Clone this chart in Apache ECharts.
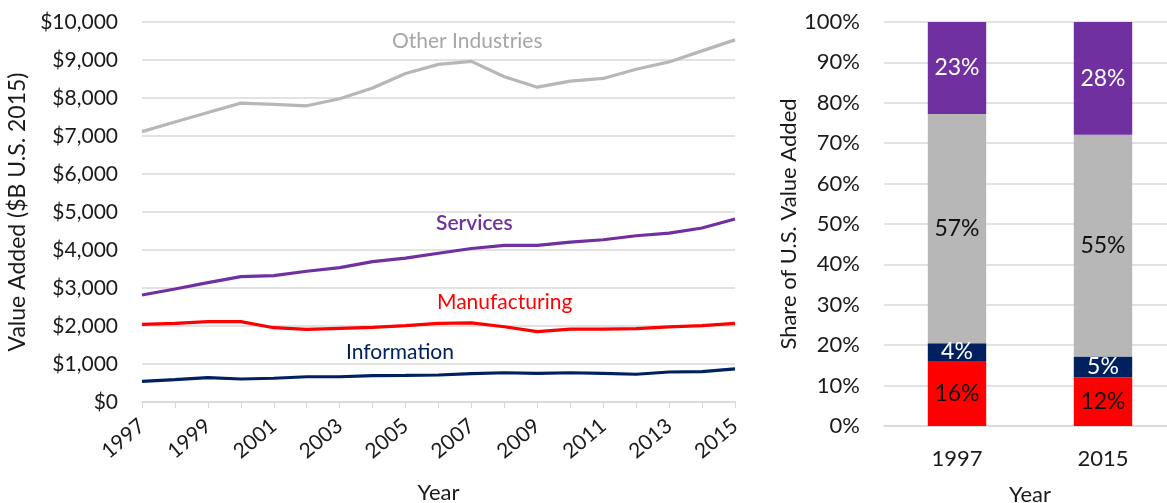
<!DOCTYPE html>
<html><head><meta charset="utf-8">
<script src="https://cdn.jsdelivr.net/npm/echarts@6/dist/echarts.min.js"></script>
<style>html,body{margin:0;padding:0;background:#fff}#c{width:1167px;height:503px}</style>
</head><body><div id="c"></div>
<script>
const years = ['1997','1998','1999','2000','2001','2002','2003','2004','2005','2006','2007','2008','2009','2010','2011','2012','2013','2014','2015'];
const otherIndustries = [7115,7370,7620,7865,7830,7795,7980,8265,8645,8885,8965,8560,8285,8445,8515,8755,8950,9240,9530];
const services = [2815,2975,3140,3300,3325,3440,3535,3695,3785,3915,4040,4120,4120,4205,4270,4375,4445,4580,4815];
const manufacturing = [2045,2070,2115,2115,1955,1910,1940,1965,2010,2070,2080,1980,1850,1920,1920,1930,1975,2010,2070];
const information = [545,590,640,605,625,665,665,695,700,710,745,770,755,770,755,730,790,800,870];

const shareYears = ['1997','2015'];
const shareManufacturing = [16.1,12.0];
const shareInformation = [4.4,5.2];
const shareOther = [56.7,54.9];
const shareServices = [22.8,27.9];

const C = {other:'#b7b7b7', services:'#7030a0', manuf:'#ff0000', info:'#002060'};
const FONT = 'Lato';
const txt = '#1a1a1a';
const chart = echarts.init(document.getElementById('c'));
function lineSeries(name, data, color){
  return {name, type:'line', xAxisIndex:0, yAxisIndex:0, data, symbol:'none', lineStyle:{color, width:3.2}, itemStyle:{color}};
}
function barSeries(name, data, color, labelColor){
  return {name, type:'bar', xAxisIndex:1, yAxisIndex:1, stack:'s', data, barWidth:'40%',
    itemStyle:{color}, label:{show:true, position:'inside', color:labelColor, fontSize:23, fontFamily:FONT,
    formatter:p=>Math.round(p.value)+'%'}};
}
chart.setOption({
  animation:false,
  textStyle:{fontFamily:FONT},
  grid:[
    {left:142, right:432, top:22, bottom:101, outerBoundsMode:'none', containLabel:false},
    {left:884, width:292, top:22, bottom:77, outerBoundsMode:'none', containLabel:false}
  ],
  xAxis:[
    {gridIndex:0, type:'category', data:years, boundaryGap:false,
     axisLine:{lineStyle:{color:'#d9d9d9', width:1.5}},
     axisTick:{show:true, alignWithLabel:true, interval:0, length:6, lineStyle:{color:'#d9d9d9'}},
     axisLabel:{rotate:40, interval:1, color:txt, fontSize:21, fontFamily:FONT, margin:21},
     name:'Year', nameLocation:'middle', nameGap:80, nameTextStyle:{color:txt, fontSize:22, fontFamily:FONT}},
    {gridIndex:1, type:'category', data:shareYears,
     axisLine:{lineStyle:{color:'#d9d9d9', width:1.5}}, axisTick:{show:false},
     axisLabel:{color:txt, fontSize:22, fontFamily:FONT, margin:22},
     name:'Year', nameLocation:'middle', nameGap:58, nameTextStyle:{color:txt, fontSize:22, fontFamily:FONT}}
  ],
  yAxis:[
    {gridIndex:0, type:'value', min:0, max:10000, interval:1000,
     axisLine:{show:false}, axisTick:{show:false},
     splitLine:{lineStyle:{color:'#d9d9d9', width:1.5}},
     axisLabel:{color:txt, fontSize:21, fontFamily:FONT, margin:24, formatter:v=>'$'+v.toLocaleString('en-US')},
     name:'Value Added ($B U.S. 2015)', nameLocation:'middle', nameGap:108, nameTextStyle:{color:txt, fontSize:23, fontFamily:FONT}},
    {gridIndex:1, type:'value', min:0, max:100, interval:10,
     axisLine:{show:false}, axisTick:{show:false},
     splitLine:{lineStyle:{color:'#d9d9d9', width:1.5}},
     axisLabel:{color:txt, fontSize:22, fontFamily:FONT, margin:24, formatter:v=>v+'%'},
     name:'Share of U.S. Value Added', nameLocation:'middle', nameGap:83, nameTextStyle:{color:txt, fontSize:22, fontFamily:FONT}}
  ],
  graphic:[
    {type:'text', left:392, top:31, style:{text:'Other Industries', fill:'#a6a6a6', font:'21px '+FONT}},
    {type:'text', left:436, top:213, style:{text:'Services', fill:C.services, font:'600 21px '+FONT}},
    {type:'text', left:437, top:292, style:{text:'Manufacturing', fill:C.manuf, font:'21px '+FONT}},
    {type:'text', left:346, top:342, style:{text:'Information', fill:C.info, font:'21px '+FONT}}
  ],
  series:[
    lineSeries('Other Industries', otherIndustries, C.other),
    lineSeries('Services', services, C.services),
    lineSeries('Manufacturing', manufacturing, C.manuf),
    lineSeries('Information', information, C.info),
    barSeries('Manufacturing', shareManufacturing, C.manuf, '#111'),
    barSeries('Information', shareInformation, C.info, '#fff'),
    barSeries('Other Industries', shareOther, C.other, '#111'),
    barSeries('Services', shareServices, C.services, '#fff')
  ]
});
</script></body></html>
